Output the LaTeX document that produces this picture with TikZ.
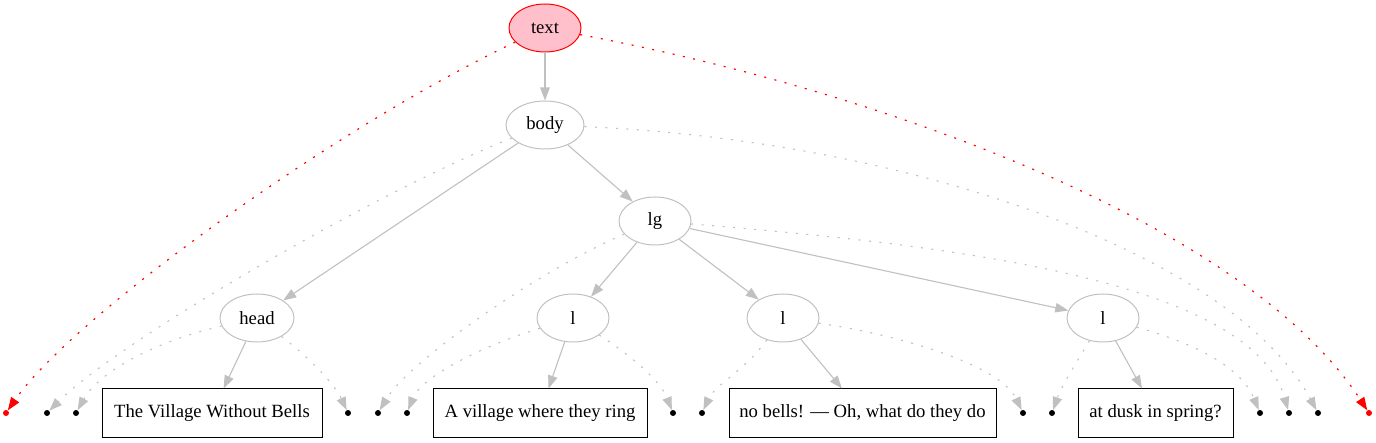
\documentclass[tikz,border=0pt]{standalone}
\usepackage{fontspec}
\setmainfont{Liberation Serif}
\usetikzlibrary{shapes.geometric,arrows.meta}
\definecolor{edgegray}{RGB}{192,192,192}
\definecolor{pinkfill}{RGB}{255,192,203}
\begin{document}
\begin{tikzpicture}[x=1pt,y=-1pt,
  every node/.style={font=\fontsize{18.67}{22}\selectfont},
  elem/.style={ellipse,draw=edgegray,line width=1pt,minimum width=72pt,minimum height=48pt,inner sep=0pt},
  rootelem/.style={elem,draw=red,fill=pinkfill},
  txtbox/.style={rectangle,draw=black,line width=1pt,minimum height=48pt,inner sep=0pt},
  dotpt/.style={circle,fill=black,inner sep=0pt,minimum size=6pt},
  reddot/.style={circle,fill=red,inner sep=0pt,minimum size=6pt},
  tree/.style={draw=edgegray,line width=1.1pt,-{Triangle[length=13pt,width=9.5pt]}},
  side/.style={tree,dash pattern=on 2pt off 8.5pt},
  redside/.style={draw=red,line width=1.2pt,dash pattern=on 2pt off 8.5pt,-{Triangle[length=13pt,width=9.5pt]}}
]
\useasboundingbox (0,0) rectangle (1376,443);
% element nodes
\node[rootelem] (text) at (545,28) {text};
\node[elem,minimum width=78pt] (body) at (545,125) {body};
\node[elem] (lg) at (655,221) {lg};
\node[elem,minimum width=74pt] (head) at (257,318) {head};
\node[elem] (l1) at (573,318) {l};
\node[elem] (l2) at (783,318) {l};
\node[elem] (l3) at (1103,318) {l};
% text boxes
\node[txtbox,minimum width=220pt] (b1) at (212,413) {The Village Without Bells};
\node[txtbox,minimum width=214pt] (b2) at (540,413) {A village where they ring};
\node[txtbox,minimum width=267pt] (b3) at (862.5,413) {no bells! — Oh, what do they do};
\node[txtbox,minimum width=155pt] (b4) at (1155.5,413) {at dusk in spring?};
% point nodes
\node[reddot] (d0) at (6,413) {};
\node[dotpt] (d1) at (47,413) {};
\node[dotpt] (d2) at (76,413) {};
\node[dotpt] (d3) at (348,413) {};
\node[dotpt] (d4) at (378,413) {};
\node[dotpt] (d5) at (407,413) {};
\node[dotpt] (d6) at (673,413) {};
\node[dotpt] (d7) at (702,413) {};
\node[dotpt] (d8) at (1023,413) {};
\node[dotpt] (d9) at (1052,413) {};
\node[dotpt] (d10) at (1260,413) {};
\node[dotpt] (d11) at (1289,413) {};
\node[dotpt] (d12) at (1318,413) {};
\node[reddot] (d13) at (1369,413) {};
% tree edges
\draw[tree] (text) -- (body);
\draw[tree] (body) -- (head);
\draw[tree] (body) -- (lg);
\draw[tree] (lg) -- (l1);
\draw[tree] (lg) -- (l2);
\draw[tree] (lg) -- (l3);
\draw[tree] (head) -- (b1);
\draw[tree] (l1) -- (b2);
\draw[tree] (l2) -- (b3);
\draw[tree] (l3) -- (b4);
% side edges
\draw[redside] (text) .. controls (330,130) and (70,320) .. (d0);
\draw[redside] (text) .. controls (900,95) and (1250,230) .. (d13);
\draw[side] (body) .. controls (380,190) and (120,340) .. (d1);
\draw[side] (body) .. controls (900,140) and (1230,250) .. (d12);
\draw[side] (lg) .. controls (540,270) and (410,360) .. (d4);
\draw[side] (lg) .. controls (950,245) and (1250,280) .. (d11);
\draw[side] (head) .. controls (160,340) and (100,370) .. (d2);
\draw[side] (head) .. controls (310,358) and (335,385) .. (d3);
\draw[side] (l1) .. controls (470,350) and (420,380) .. (d5);
\draw[side] (l1) .. controls (630,355) and (660,380) .. (d6);
\draw[side] (l2) .. controls (745,370) and (715,385) .. (d7);
\draw[side] (l2) .. controls (900,335) and (1000,365) .. (d8);
\draw[side] (l3) .. controls (1075,365) and (1062,385) .. (d9);
\draw[side] (l3) .. controls (1190,342) and (1240,365) .. (d10);
\end{tikzpicture}
\end{document}
